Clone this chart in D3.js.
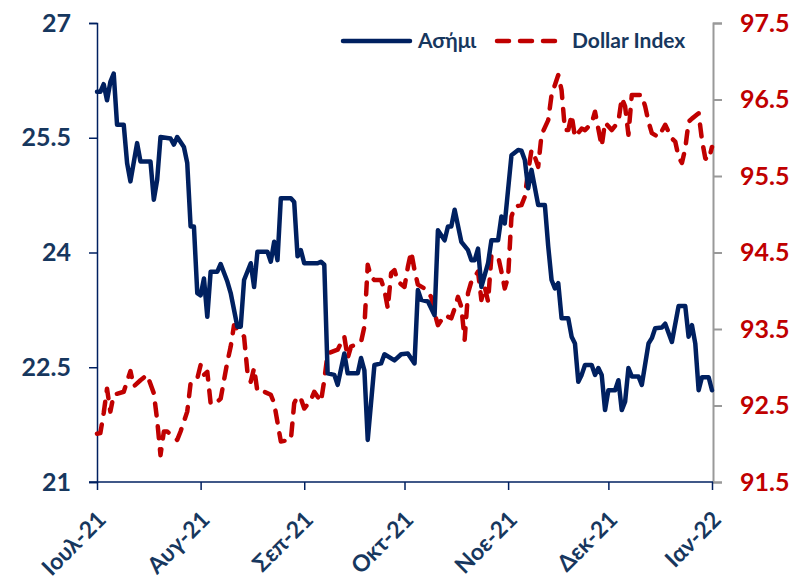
<!DOCTYPE html>
<html lang="el">
<head>
<meta charset="UTF-8">
<title>Ασήμι - Dollar Index</title>
<script src="https://d3js.org/d3.v7.min.js"></script>
<style>
  body { margin: 0; background: #fff; }
  text { font-family: Lato, "Open Sans", sans-serif; font-weight: bold; }
</style>
</head>
<body>
<script>
// silver price (left axis), [date, value]
const silver = [
  ["2021-07-01",26.10],["2021-07-02",26.10],["2021-07-03",26.20],["2021-07-04",25.99],["2021-07-05",26.23],
  ["2021-07-06",26.34],["2021-07-07",25.67],["2021-07-09",25.67],["2021-07-10",25.17],["2021-07-11",24.93],
  ["2021-07-13",25.43],["2021-07-14",25.19],["2021-07-17",25.19],["2021-07-18",24.69],["2021-07-19",24.95],
  ["2021-07-20",25.51],["2021-07-23",25.49],["2021-07-24",25.41],["2021-07-25",25.51],["2021-07-27",25.38],
  ["2021-07-28",25.17],["2021-07-29",24.34],["2021-07-30",24.34],["2021-07-31",23.47],["2021-08-01",23.44],
  ["2021-08-02",23.66],["2021-08-03",23.16],["2021-08-04",23.75],["2021-08-06",23.75],["2021-08-07",23.85],
  ["2021-08-09",23.62],["2021-08-10",23.47],["2021-08-12",23.03],["2021-08-13",23.03],["2021-08-14",23.64],
  ["2021-08-16",23.86],["2021-08-17",23.55],["2021-08-18",24.01],["2021-08-21",24.01],["2021-08-22",23.88],
  ["2021-08-23",24.14],["2021-08-24",23.90],["2021-08-25",24.71],["2021-08-28",24.71],["2021-08-29",24.66],
  ["2021-08-30",23.95],["2021-08-31",24.03],["2021-09-01",23.86],["2021-09-05",23.86],["2021-09-06",23.88],
  ["2021-09-07",23.84],["2021-09-08",22.42],["2021-09-10",22.40],["2021-09-11",22.27],["2021-09-13",22.68],
  ["2021-09-14",22.42],["2021-09-17",22.42],["2021-09-18",22.62],["2021-09-19",22.46],["2021-09-20",21.55],
  ["2021-09-22",22.53],["2021-09-24",22.55],["2021-09-25",22.67],["2021-09-28",22.59],["2021-09-30",22.67],
  ["2021-10-02",22.68],["2021-10-04",22.55],["2021-10-05",23.51],["2021-10-06",23.38],["2021-10-08",23.36],
  ["2021-10-10",23.18],["2021-10-11",24.29],["2021-10-13",24.16],["2021-10-14",24.34],["2021-10-15",24.34],
  ["2021-10-16",24.56],["2021-10-18",24.14],["2021-10-20",24.03],["2021-10-21",23.90],["2021-10-22",23.90],
  ["2021-10-23",24.05],["2021-10-24",23.55],["2021-10-26",23.86],["2021-10-27",24.16],["2021-10-29",24.16],
  ["2021-10-30",24.47],["2021-10-31",24.38],["2021-11-02",25.27],["2021-11-04",25.34],["2021-11-05",25.33],
  ["2021-11-06",25.21],["2021-11-07",24.84],["2021-11-08",25.08],["2021-11-10",24.62],["2021-11-12",24.62],
  ["2021-11-13",24.08],["2021-11-14",23.64],["2021-11-15",23.53],["2021-11-16",23.60],["2021-11-17",23.14],
  ["2021-11-19",23.14],["2021-11-20",22.90],["2021-11-21",22.81],["2021-11-22",22.31],["2021-11-23",22.40],
  ["2021-11-24",22.53],["2021-11-26",22.53],["2021-11-27",22.40],["2021-11-28",22.49],["2021-11-29",22.40],
  ["2021-11-30",21.94],["2021-12-01",22.20],["2021-12-03",22.20],["2021-12-04",22.33],["2021-12-05",21.94],
  ["2021-12-06",22.05],["2021-12-07",22.49],["2021-12-08",22.38],["2021-12-10",22.38],["2021-12-11",22.27],
  ["2021-12-13",22.81],["2021-12-14",22.88],["2021-12-15",23.01],["2021-12-17",23.02],["2021-12-18",23.07],
  ["2021-12-20",22.83],["2021-12-22",23.30],["2021-12-24",23.30],["2021-12-25",22.90],["2021-12-26",23.05],
  ["2021-12-27",22.81],["2021-12-28",22.20],["2021-12-29",22.37],["2021-12-31",22.37],["2022-01-01",22.20]
];

// dollar index (right axis), [date, value]
const dollar = [
  ["2021-07-01",92.13],["2021-07-02",92.14],["2021-07-03",92.40],["2021-07-04",92.72],["2021-07-05",92.42],
  ["2021-07-06",92.64],["2021-07-09",92.68],["2021-07-11",92.95],["2021-07-12",92.75],["2021-07-14",92.83],
  ["2021-07-16",92.90],["2021-07-18",92.66],["2021-07-19",92.31],["2021-07-20",91.85],["2021-07-21",92.16],
  ["2021-07-22",92.16],["2021-07-25",92.05],["2021-07-26",92.16],["2021-07-28",92.42],["2021-07-29",92.79],
  ["2021-07-31",92.85],["2021-08-01",93.03],["2021-08-02",92.90],["2021-08-03",92.94],["2021-08-04",92.53],
  ["2021-08-05",92.51],["2021-08-07",92.59],["2021-08-08",92.83],["2021-08-09",93.07],["2021-08-10",93.27],
  ["2021-08-11",93.55],["2021-08-12",93.50],["2021-08-14",93.40],["2021-08-15",92.94],["2021-08-16",92.81],
  ["2021-08-17",92.99],["2021-08-18",92.68],["2021-08-20",92.68],["2021-08-22",92.64],["2021-08-23",92.53],
  ["2021-08-25",92.03],["2021-08-28",92.05],["2021-08-29",92.53],["2021-08-30",92.62],["2021-08-31",92.59],
  ["2021-09-01",92.46],["2021-09-03",92.57],["2021-09-04",92.68],["2021-09-06",92.55],["2021-09-07",92.83],
  ["2021-09-08",93.18],["2021-09-11",93.23],["2021-09-13",93.40],["2021-09-14",93.12],["2021-09-15",93.27],
  ["2021-09-18",93.33],["2021-09-19",93.53],["2021-09-20",94.34],["2021-09-21",94.18],["2021-09-22",94.14],
  ["2021-09-24",94.14],["2021-09-25",94.01],["2021-09-26",93.77],["2021-09-27",94.23],["2021-09-28",94.27],
  ["2021-09-29",94.12],["2021-10-01",94.05],["2021-10-02",94.31],["2021-10-03",94.51],["2021-10-04",94.27],
  ["2021-10-05",94.08],["2021-10-07",94.03],["2021-10-09",93.92],["2021-10-10",93.71],["2021-10-11",93.55],
  ["2021-10-13",93.68],["2021-10-15",93.64],["2021-10-16",93.77],["2021-10-17",93.92],["2021-10-18",93.79],
  ["2021-10-19",93.36],["2021-10-20",93.97],["2021-10-21",94.12],["2021-10-23",94.25],["2021-10-24",93.88],
  ["2021-10-25",94.05],["2021-10-26",93.86],["2021-10-27",94.45],["2021-10-29",94.45],["2021-10-30",94.25],
  ["2021-10-31",94.03],["2021-11-01",94.18],["2021-11-02",94.97],["2021-11-03",95.10],["2021-11-05",95.12],
  ["2021-11-06",95.23],["2021-11-07",95.56],["2021-11-08",95.84],["2021-11-09",95.75],["2021-11-10",95.62],
  ["2021-11-11",96.04],["2021-11-13",96.23],["2021-11-14",96.56],["2021-11-15",96.69],["2021-11-16",96.82],
  ["2021-11-17",96.62],["2021-11-18",96.10],["2021-11-19",96.10],["2021-11-20",96.30],["2021-11-21",96.01],
  ["2021-11-23",96.12],["2021-11-24",96.10],["2021-11-26",96.19],["2021-11-27",96.34],["2021-11-29",95.89],
  ["2021-11-30",96.20],["2021-12-02",96.10],["2021-12-04",96.21],["2021-12-05",96.52],["2021-12-06",96.41],
  ["2021-12-07",96.04],["2021-12-08",96.56],["2021-12-11",96.56],["2021-12-12",96.41],["2021-12-13",96.21],
  ["2021-12-14",96.06],["2021-12-16",96.01],["2021-12-18",96.17],["2021-12-20",95.99],["2021-12-21",95.95],
  ["2021-12-22",95.75],["2021-12-23",95.67],["2021-12-24",95.86],["2021-12-25",96.21],["2021-12-26",96.25],
  ["2021-12-28",96.32],["2021-12-29",95.97],["2021-12-30",95.73],["2021-12-31",95.71],["2022-01-01",95.88]
];

const monthTicks = ["2021-07-01","2021-08-01","2021-09-01","2021-10-01","2021-11-01","2021-12-01","2022-01-01"];
const monthLabels = ["Ιουλ-21","Αυγ-21","Σεπ-21","Οκτ-21","Νοε-21","Δεκ-21","Ιαν-22"];
const leftTicks = [21, 22.5, 24, 25.5, 27];
const rightTicks = [91.5, 92.5, 93.5, 94.5, 95.5, 96.5, 97.5];
const seriesNames = ["Ασήμι", "Dollar Index"];

const width = 797, height = 582;
const navy = "#002060", red = "#C00000", labelBlue = "#17375E";

const parse = d3.timeParse("%Y-%m-%d");

const svg = d3.select("body").append("svg")
    .attr("width", width)
    .attr("height", height);

const x = d3.scaleTime()
    .domain([parse("2021-07-01"), parse("2022-01-01")])
    .range([97, 712]);
const yL = d3.scaleLinear().domain([21, 27]).range([482, 23]);
const yR = d3.scaleLinear().domain([91.5, 97.5]).range([482, 23]);

// left axis
const gL = svg.append("g").attr("transform", "translate(97,0)")
    .call(d3.axisLeft(yL).tickValues(leftTicks).tickSize(8).tickPadding(18).tickFormat(d => String(d)));
gL.selectAll("path, line").attr("stroke", navy).attr("stroke-width", 1.5);
gL.selectAll("text").attr("fill", labelBlue).style("font-size", "25px");

// right axis
const gR = svg.append("g").attr("transform", "translate(713,0)")
    .call(d3.axisRight(yR).tickValues(rightTicks).tickSize(9).tickPadding(18).tickFormat(d => String(d)));
gR.selectAll("path, line").attr("stroke", "#999").attr("stroke-width", 2);
gR.selectAll("text").attr("fill", red).style("font-size", "25px");

// bottom axis
const gX = svg.append("g").attr("transform", "translate(0,482)")
    .call(d3.axisBottom(x).tickValues(monthTicks.map(parse)).tickSize(8).tickSizeOuter(0)
        .tickFormat((d, i) => monthLabels[i]));
gX.selectAll("path, line").attr("stroke", navy).attr("stroke-width", 1.5);
gX.select(".domain").attr("d", "M89,0H713");
gX.selectAll("text")
    .attr("fill", labelBlue)
    .style("font-size", "23px")
    .attr("text-anchor", "end")
    .attr("y", 0).attr("dy", 0)
    .attr("transform", "translate(10,39) rotate(-45)");

// lines
const lineL = d3.line().x(d => x(parse(d[0]))).y(d => yL(d[1]));
const lineR = d3.line().x(d => x(parse(d[0]))).y(d => yR(d[1]));

svg.append("path").datum(dollar)
    .attr("d", lineR)
    .attr("fill", "none")
    .attr("stroke", red)
    .attr("stroke-width", 4.5)
    .attr("stroke-dasharray", "12,11")
    .attr("stroke-linecap", "round")
    .attr("stroke-linejoin", "round");

svg.append("path").datum(silver)
    .attr("d", lineL)
    .attr("fill", "none")
    .attr("stroke", navy)
    .attr("stroke-width", 4.5)
    .attr("stroke-linejoin", "round")
    .attr("stroke-linecap", "round");

// legend
const lg = svg.append("g");
lg.append("line").attr("x1", 343).attr("x2", 410).attr("y1", 41).attr("y2", 41)
    .attr("stroke", navy).attr("stroke-width", 4.5).attr("stroke-linecap", "round");
lg.append("text").attr("x", 418).attr("y", 48).text(seriesNames[0])
    .attr("fill", labelBlue).style("font-size", "21px");
lg.append("line").attr("x1", 497).attr("x2", 558).attr("y1", 41).attr("y2", 41)
    .attr("stroke", red).attr("stroke-width", 4.5).attr("stroke-linecap", "round")
    .attr("stroke-dasharray", "12,11");
lg.append("text").attr("x", 572).attr("y", 48).text(seriesNames[1])
    .attr("fill", labelBlue).style("font-size", "21px");
</script>
</body>
</html>
